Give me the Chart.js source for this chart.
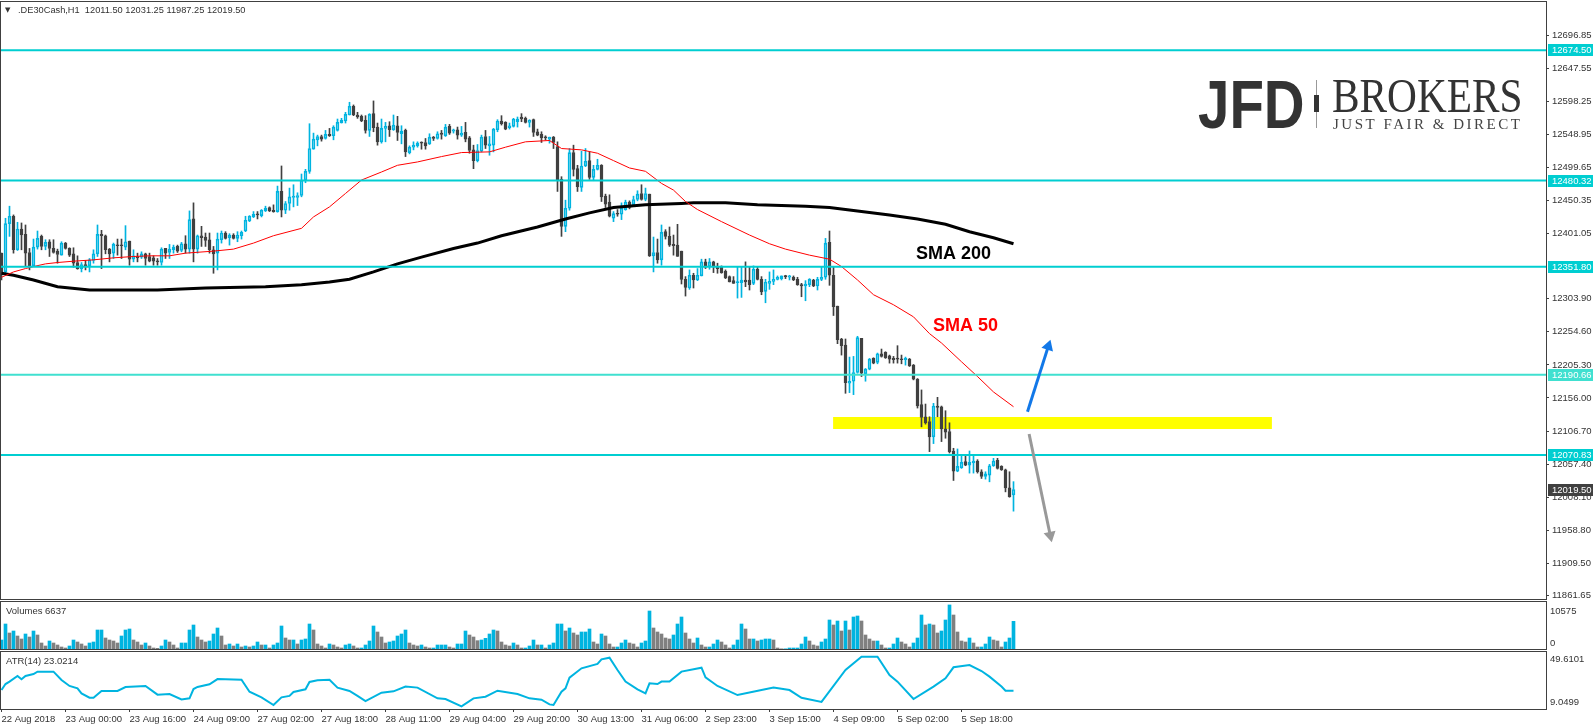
<!DOCTYPE html>
<html lang="en">
<head>
  <meta charset="UTF-8">
  <title>.DE30Cash,H1</title>
  <style>
    html, body { margin: 0; padding: 0; background: #fff; overflow: hidden; }
    canvas { position: absolute; left: 0; display: block; }
  </style>
</head>
<body>
  <canvas id="mainChart" width="1593" height="600" style="top:0"></canvas>
  <canvas id="volChart" width="1593" height="50" style="top:601px"></canvas>
  <canvas id="atrChart" width="1593" height="76" style="top:651px"></canvas>

  <script src="https://cdn.jsdelivr.net/npm/chart.js@4/dist/chart.umd.min.js"></script>
  <script>
    // H1 candles
    const opens = [
      12372,12344,12416,12427,12377,12408,12400,12373,12353,12381,
      12397,12382,12389,12379,12375,12369,12387,12379,12371,12358,
      12349,12355,12353,12361,12371,12400,12398,12378,12372,12384,
      12384,12381,12390,12363,12367,12366,12371,12367,12365,12360,
      12358,12379,12373,12377,12382,12376,12386,12378,12423,12378,
      12398,12396,12392,12377,12372,12392,12402,12395,12399,12394,
      12398,12405,12420,12426,12430,12428,12435,12440,12436,12434,
      12464,12436,12446,12455,12455,12458,12481,12494,12527,12541,
      12546,12543,12549,12547,12555,12566,12569,12578,12591,12578,
      12576,12570,12555,12580,12560,12538,12558,12562,12556,12562,
      12550,12555,12522,12530,12532,12537,12537,12535,12545,12543,
      12551,12547,12561,12554,12556,12548,12552,12544,12526,12510,
      12524,12546,12532,12533,12556,12569,12567,12559,12561,12568,
      12575,12573,12567,12571,12553,12549,12545,12542,12545,12531,
      12482,12412,12439,12522,12498,12470,12502,12510,12485,12497,
      12503,12457,12448,12424,12431,12430,12437,12448,12444,12452,
      12461,12452,12460,12368,12373,12362,12404,12397,12385,12384,
      12375,12333,12320,12339,12332,12338,12359,12352,12359,12352,
      12352,12345,12337,12331,12328,12328,12332,12332,12327,12348,
      12333,12315,12327,12330,12333,12334,12338,12336,12336,12333,
      12325,12323,12325,12332,12323,12333,12336,12388,12339,12293,
      12244,12235,12178,12181,12194,12245,12192,12199,12215,12209,
      12222,12224,12219,12215,12215,12214,12213,12214,12205,12184,
      12146,12128,12121,12098,12144,12143,12110,12106,12077,12047,
      12052,12061,12056,12059,12062,12046,12039,12041,12055,12063,
      12054,12049,12022,12011.5
    ];
    const highs = [
      12372,12424,12442,12429,12418,12417,12414,12379,12393,12405,
      12399,12392,12392,12392,12378,12389,12388,12380,12380,12368,
      12358,12361,12364,12377,12414,12406,12399,12379,12387,12393,
      12393,12413,12390,12377,12372,12374,12372,12372,12368,12364,
      12380,12379,12385,12384,12384,12388,12398,12435,12447,12399,
      12412,12402,12402,12382,12402,12405,12404,12401,12401,12404,
      12405,12427,12428,12434,12434,12437,12442,12441,12444,12472,
      12502,12449,12469,12474,12462,12490,12497,12565,12551,12548,
      12548,12555,12558,12562,12572,12573,12582,12597,12593,12582,
      12578,12577,12580,12599,12566,12572,12567,12568,12578,12576,
      12562,12557,12532,12538,12538,12538,12543,12550,12546,12553,
      12555,12564,12564,12557,12560,12561,12567,12546,12533,12534,
      12548,12555,12546,12558,12571,12577,12568,12566,12573,12575,
      12580,12575,12571,12572,12557,12553,12547,12545,12546,12538,
      12486,12451,12528,12533,12503,12524,12528,12523,12503,12512,
      12504,12460,12459,12434,12437,12447,12451,12450,12457,12465,
      12474,12469,12460,12396,12393,12414,12407,12411,12399,12415,
      12375,12337,12347,12342,12349,12363,12363,12364,12360,12357,
      12353,12347,12338,12337,12352,12352,12359,12351,12353,12352,
      12337,12333,12344,12347,12338,12338,12339,12339,12338,12336,
      12327,12331,12334,12333,12336,12352,12394,12405,12352,12293,
      12245,12244,12217,12218,12248,12245,12200,12215,12216,12223,
      12229,12225,12220,12218,12234,12220,12217,12215,12206,12185,
      12168,12147,12128,12148,12157,12144,12137,12119,12081,12080,
      12070,12069,12077,12069,12064,12049,12046,12057,12066,12066,
      12055,12050,12046,12031.25
    ];
    const lows = [
      12332,12342,12397,12372,12376,12377,12352,12347,12352,12378,
      12377,12377,12367,12372,12357,12369,12378,12367,12351,12348,
      12344,12347,12344,12357,12367,12349,12371,12359,12364,12369,
      12364,12377,12354,12359,12359,12364,12354,12359,12354,12354,
      12354,12364,12364,12372,12373,12374,12372,12372,12359,12372,
      12382,12382,12372,12342,12347,12387,12393,12384,12393,12389,
      12393,12404,12419,12425,12423,12426,12434,12434,12433,12433,
      12426,12431,12436,12441,12443,12456,12477,12491,12527,12532,
      12539,12542,12546,12541,12554,12566,12566,12578,12577,12573,
      12568,12551,12546,12553,12533,12536,12538,12546,12555,12540,
      12535,12516,12520,12526,12530,12527,12527,12534,12540,12542,
      12542,12546,12549,12551,12542,12546,12538,12521,12498,12508,
      12523,12528,12518,12523,12553,12563,12556,12557,12560,12560,
      12568,12566,12560,12546,12547,12537,12541,12536,12528,12464,
      12397,12404,12436,12487,12464,12464,12501,12482,12480,12496,
      12449,12440,12426,12419,12427,12422,12436,12438,12443,12450,
      12451,12450,12367,12344,12357,12354,12393,12382,12369,12367,
      12326,12308,12318,12320,12331,12338,12349,12348,12343,12342,
      12342,12334,12329,12327,12305,12306,12322,12317,12325,12332,
      12310,12298,12318,12325,12332,12332,12334,12332,12331,12324,
      12307,12301,12322,12322,12317,12331,12333,12324,12279,12237,
      12220,12163,12164,12161,12193,12188,12181,12198,12207,12207,
      12217,12215,12208,12208,12208,12207,12205,12203,12183,12141,
      12113,12117,12076,12088,12128,12091,12096,12074,12033,12046,
      12051,12055,12044,12044,12044,12036,12035,12031,12054,12050,
      12048,12016,12008,11987.25
    ];
    const closes = [
      12342,12416,12427,12377,12408,12399,12372,12352,12381,12394,
      12382,12388,12379,12373,12370,12387,12379,12369,12357,12349,
      12355,12353,12362,12371,12400,12398,12377,12371,12385,12383,
      12383,12389,12363,12368,12365,12371,12364,12360,12360,12359,
      12378,12372,12378,12381,12375,12386,12378,12422,12378,12398,
      12395,12391,12377,12371,12393,12402,12394,12399,12394,12399,
      12403,12421,12427,12430,12429,12436,12439,12435,12434,12464,
      12436,12446,12456,12457,12458,12481,12494,12528,12542,12546,
      12542,12549,12547,12560,12567,12570,12579,12591,12578,12575,
      12569,12555,12579,12559,12538,12558,12561,12556,12563,12552,
      12554,12523,12530,12533,12536,12536,12532,12545,12543,12550,
      12549,12560,12551,12556,12548,12551,12542,12525,12510,12525,
      12545,12533,12535,12557,12569,12565,12557,12562,12572,12572,
      12572,12567,12570,12552,12548,12544,12544,12545,12537,12481,
      12412,12439,12522,12497,12471,12502,12509,12485,12497,12503,
      12456,12445,12427,12431,12430,12439,12448,12440,12452,12460,
      12452,12461,12368,12373,12362,12403,12397,12384,12383,12367,
      12333,12321,12339,12332,12339,12359,12351,12359,12352,12349,
      12343,12335,12329,12327,12328,12332,12329,12325,12348,12333,
      12314,12329,12330,12333,12336,12338,12337,12338,12332,12325,
      12323,12326,12333,12323,12333,12336,12387,12339,12292,12243,
      12234,12179,12181,12194,12246,12193,12199,12214,12208,12222,
      12218,12216,12214,12213,12214,12213,12215,12204,12184,12144,
      12127,12119,12098,12144,12142,12110,12105,12076,12047,12054,
      12060,12056,12060,12062,12046,12039,12043,12055,12062,12051,
      12049,12022,12009,12019.5
    ];

    const volumes = [
      2160,6000,3840,4320,3120,2400,3600,2880,4320,3360,
      1440,720,1920,1440,960,480,240,720,2160,1680,
      1200,720,1440,1680,4560,4560,2640,2160,1920,1440,
      3120,4560,4800,2160,1680,960,1440,720,240,160,
      720,2160,1680,960,240,1440,1440,4560,5760,2880,
      2160,1680,1920,3600,5040,3120,960,1200,720,1200,
      480,720,480,720,1680,960,960,240,960,1440,
      5520,2640,2160,2160,1200,2160,2400,6000,4560,1200,
      720,240,1200,960,480,240,960,1200,720,240,
      240,960,1920,5520,4080,2880,1440,1680,1920,3120,
      3600,4560,1440,960,720,960,480,240,240,960,
      960,960,480,240,1200,1200,4320,3360,2880,2000,
      2160,2560,3600,4560,4320,1680,960,720,1440,960,
      240,240,720,2160,960,960,240,960,1440,6000,
      6000,4320,5040,3840,3360,4080,4080,4800,1680,1200,
      3600,3120,1200,480,480,1440,2160,1440,1200,480,
      1440,1920,9120,5040,4080,3600,2640,2400,3360,6000,
      7680,3840,2400,1440,2640,960,480,480,1200,2160,
      1680,960,240,960,2160,6000,4800,2400,2400,1920,
      2160,2400,2400,2160,240,40,40,240,240,240,
      1200,2880,1920,960,720,1680,2400,6960,5760,6720,
      4320,6720,4560,7680,7920,6720,3360,2400,1920,1920,
      960,240,240,1200,2640,1680,1200,480,1440,2640,
      8160,5760,6000,5760,3840,4320,6960,10575,8160,4080,
      1920,1680,2640,1440,480,480,1200,2880,2160,1920,
      480,1680,2640,6637
    ];

    // moving averages and ATR, sampled where the curve changes
    const sma50Bars = [0,3,6,8,11,14,18,23,28,33,37,42,46,53,58,63,68,75,78,82,86,90,95,99,104,110,115,122,126,131,137,140,145,149,153,157,161,165,168,171,174,180,187,192,196,202,207,210,214,218,223,228,232,235,240,244,248,253];
    const sma50Values = [12336,12344,12349,12352,12356,12358,12360,12362,12365,12367,12368,12368,12372,12375,12378,12387,12398,12409,12426,12441,12461,12481,12493,12503,12508,12516,12522,12523,12530,12538,12540,12528,12526,12521,12510,12499,12494,12476,12466,12449,12437,12419,12399,12386,12378,12369,12363,12352,12332,12310,12295,12277,12252,12238,12210,12188,12165,12143];
    const sma200Bars = [0,3,8,14,22,39,51,66,75,82,87,93,99,105,113,119,125,134,141,147,153,161,170,173,181,189,201,207,214,222,229,236,242,248,253];
    const sma200Values = [12342,12339,12332,12322,12317,12317,12320,12322,12325,12329,12333,12344,12356,12366,12379,12387,12398,12411,12423,12432,12440,12444,12446,12447,12447,12444,12442,12440,12435,12429,12423,12415,12404,12395,12386];
    const atrBars = [0,1,2,4,5,6,8,9,13,15,17,19,20,22,23,25,29,31,36,39,42,45,47,48,49,52,54,60,62,65,68,70,72,73,76,77,79,82,84,87,89,91,95,98,101,104,109,111,115,118,121,124,129,132,135,137,138,140,141,142,145,149,150,152,154,156,159,161,162,164,165,167,170,175,176,179,184,190,193,197,200,205,211,215,219,222,224,228,233,236,238,242,245,247,250,251,253];
    const atrValues = [23.5,28.2,30.1,34.5,31.9,34.5,36.0,37.9,37.9,31.4,26.7,24.8,20.9,17.5,17.5,22.8,22.8,25.9,26.7,19.9,20.4,16.2,17.0,24.3,25.9,28.0,32.1,31.6,22.2,17.8,11.8,17.8,18.9,22.0,24.1,29.8,31.1,31.6,25.4,22.8,18.9,14.9,21.4,22.5,26.2,25.4,17.0,16.5,10.8,17.0,18.3,23.0,20.4,17.0,16.0,12.3,11.8,22.2,24.8,33.2,40.5,43.9,47.5,48.8,39.2,30.1,24.1,20.9,28.8,28.2,30.1,30.1,37.9,41.0,33.4,26.7,19.6,23.5,25.4,23.5,17.5,14.2,39.2,49.6,49.6,35.3,30.1,16.5,26.2,32.7,41.3,43.1,38.4,34.0,26.2,23.0,23.0];

    // horizontal levels and drawn objects
    const levels = [12674.50, 12480.32, 12351.80, 12190.66, 12070.83];
    const zoneBars = [207.9, 317.6];
    const zonePrice = 12118.7;
    const upArrowBars = [256.5, 261.7];
    const upArrowPrices = [12135.6, 12233];
    const downArrowBars = [256.9, 262.2];
    const downArrowPrices = [12102.3, 11951];
    const lastPrice = 12019.50;

    // axis labels
    const priceTicks = [12696.85,12647.55,12598.25,12548.95,12499.65,12450.35,12401.05,12303.90,12254.60,12205.30,12156.00,12106.70,12057.40,12008.10,11958.80,11909.50,11861.65];
    const volumeTicks = ["10575", "0"];
    const atrTicks = ["49.6101", "9.0499"];
    const timeTicks = ["22 Aug 2018","23 Aug 00:00","23 Aug 16:00","24 Aug 09:00","27 Aug 02:00","27 Aug 18:00","28 Aug 11:00","29 Aug 04:00","29 Aug 20:00","30 Aug 13:00","31 Aug 06:00","2 Sep 23:00","3 Sep 15:00","4 Sep 09:00","5 Sep 02:00","5 Sep 18:00"];
    const timeTickStep = 16;

    const BLUE = "#00b4e0", DARK = "#404040", TEXT = "#333333", GREY = "#808080", CYAN = "#00ced1", AXIS = "#404040";
    const levelColors = [CYAN, CYAN, CYAN, "#40e0d0", CYAN];
    const FONT = "'Liberation Sans', Arial, sans-serif";
    const tickFont = { family: FONT, size: 9.5 };

    const points = (xs, ys) => xs.map((x, i) => ({ x, y: ys[i] }));
    const isUp = i => closes[i] >= opens[i];

    // same bar slots on all three panels: 4px per bar, free space on the right
    const xRange = { min: -0.125, max: 386.125 };
    const yAxisWidth = 47;

    // chart.js reserves room for half a label at the axis ends, the panels must fill exactly
    const dropAxisPadding = s => { s.paddingTop = s.paddingBottom = s.paddingLeft = s.paddingRight = 0; };

    function xScale(show) {
      return {
        type: "linear", offset: false, ...xRange, display: show,
        grid: { offset: false, drawOnChartArea: false, color: AXIS, tickLength: 3 },
        border: { display: false },
        afterFit: s => { s.height = show ? 18 : 0; dropAxisPadding(s); },
        afterBuildTicks: s => { s.ticks = timeTicks.map((_, k) => ({ value: k * timeTickStep })); },
        ticks: { color: TEXT, font: tickFont, align: "start", autoSkip: false, maxRotation: 0, padding: 2, callback: (v, i) => timeTicks[i] }
      };
    }

    // sub panel labels sit inside the panel rather than on the exact value, so nudge them (px)
    function panelYScale(min, max, panelHeight, labels, values, nudges) {
      const perPx = (max - min) / panelHeight;
      return {
        position: "right", min, max,
        grid: { drawOnChartArea: false, drawTicks: false },
        border: { display: false },
        afterFit: s => { s.width = yAxisWidth; dropAxisPadding(s); },
        afterBuildTicks: s => { s.ticks = values.map((v, k) => ({ value: v - nudges[k] * perPx })); },
        ticks: { color: TEXT, font: tickFont, padding: 4, autoSkip: false, callback: (v, i) => labels[i] }
      };
    }

    const panelBorder = {
      id: "panelBorder",
      afterDraw(chart) {
        const { ctx, chartArea: a } = chart;
        ctx.save();
        ctx.strokeStyle = AXIS;
        ctx.lineWidth = 1;
        ctx.strokeRect(a.left - 0.5, a.top - 0.5, a.right - a.left + 1, a.bottom - a.top + 1);
        ctx.restore();
      }
    };

    function panelTitle(text) {
      return {
        id: "panelTitle",
        afterDraw(chart) {
          const { ctx, chartArea: a } = chart;
          ctx.save();
          ctx.fillStyle = TEXT;
          ctx.font = `9.5px ${FONT}`;
          ctx.textBaseline = "middle";
          ctx.fillText(text, 6, a.top + 9);
          ctx.restore();
        }
      };
    }

    // price tags, header, annotations and logo on the main panel
    const mainOverlay = {
      id: "mainOverlay",
      afterDraw(chart) {
        const { ctx, scales } = chart;
        const tag = (price, color) => {
          const y = Math.round(scales.y.getPixelForValue(price));
          ctx.fillStyle = color;
          ctx.fillRect(1548, y - 6, 45, 12);
          ctx.fillStyle = "#fff";
          ctx.font = `9.5px ${FONT}`;
          ctx.textBaseline = "middle";
          ctx.fillText(price.toFixed(2), 1552, y + 0.5);
        };
        ctx.save();
        levels.forEach((p, i) => tag(p, levelColors[i]));
        tag(lastPrice, DARK);

        ctx.fillStyle = TEXT;
        ctx.font = `9.25px ${FONT}`;
        ctx.textBaseline = "middle";
        ctx.fillText(".DE30Cash,H1  12011.50 12031.25 11987.25 12019.50", 18, 10.5);
        ctx.font = "7px 'DejaVu Sans'";
        ctx.fillText("▼", 5, 10.5);

        ctx.font = `bold 18px ${FONT}`;
        ctx.fillStyle = "#000";
        ctx.fillText("SMA 200", 916, 254);
        ctx.fillStyle = "#ff0000";
        ctx.fillText("SMA 50", 933, 326);

        // logo
        ctx.fillStyle = "#333";
        ctx.textBaseline = "alphabetic";
        ctx.save();
        ctx.translate(1198, 128);
        ctx.scale(0.83, 1);
        ctx.font = `bold 68px ${FONT}`;
        ctx.fillText("JFD", 0, 0);
        ctx.restore();
        ctx.fillStyle = "#999";
        ctx.fillRect(1316, 80, 1, 48);
        ctx.fillStyle = "#333";
        ctx.fillRect(1314, 95, 5, 17);
        ctx.save();
        ctx.translate(1332, 112);
        ctx.scale(0.86, 1);
        ctx.font = "48px 'Liberation Serif', serif";
        ctx.fillText("BROKERS", 0, 0);
        ctx.restore();
        ctx.fillStyle = "#444";
        ctx.font = "15px 'Liberation Serif', serif";
        ctx.letterSpacing = "2.5px";
        ctx.fillText("JUST FAIR & DIRECT", 1333, 129);
        ctx.restore();
      }
    };

    Chart.defaults.animation = false;
    Chart.defaults.events = [];
    Chart.defaults.plugins.legend.display = false;
    Chart.defaults.plugins.tooltip.enabled = false;

    const bars = opens.map((_, i) => i);
    const candleColors = bars.map(i => (isUp(i) ? BLUE : DARK));
    const wickStyle = { type: "bar", barThickness: 1, grouped: false, backgroundColor: candleColors, order: 9 };
    const lineStyle = { type: "line", pointRadius: 0, tension: 0, fill: false };

    const levelDatasets = levels.map((p, i) => ({
      ...lineStyle,
      data: points([xRange.min, xRange.max], [p, p]),
      borderColor: levelColors[i], borderWidth: 2, order: 4
    }));

    new Chart(document.getElementById("mainChart"), {
      type: "bar",
      data: {
        datasets: [
          { ...lineStyle, data: points(zoneBars, [zonePrice, zonePrice]), borderColor: "#ffff00", borderWidth: 12, order: 10 },
          { ...wickStyle, data: bars.map(i => ({ x: i, y: [Math.max(opens[i], closes[i]), highs[i]] })) },
          { ...wickStyle, data: bars.map(i => ({ x: i, y: [lows[i], Math.min(opens[i], closes[i])] })) },
          {
            type: "bar", barThickness: 3, grouped: false, minBarLength: 1,
            data: bars.map(i => ({ x: i, y: [opens[i], closes[i]] })),
            backgroundColor: bars.map(i => (isUp(i) ? "transparent" : DARK)),
            borderColor: candleColors, borderWidth: 1, borderSkipped: false, order: 8
          },
          { ...lineStyle, data: points(sma200Bars, sma200Values), borderColor: "#000", borderWidth: 3, order: 6 },
          { ...lineStyle, data: points(sma50Bars, sma50Values), borderColor: "#ff0000", borderWidth: 1, order: 5 },
          ...levelDatasets,
          {
            ...lineStyle, data: points(upArrowBars, upArrowPrices), borderColor: "#1278e8", borderWidth: 3, order: 3,
            pointStyle: "triangle", pointRadius: [0, 7], pointRotation: [0, 18], pointBackgroundColor: "#1278e8", pointBorderWidth: 0
          },
          {
            ...lineStyle, data: points(downArrowBars, downArrowPrices), borderColor: "#999999", borderWidth: 3, order: 3,
            pointStyle: "triangle", pointRadius: [0, 7], pointRotation: [0, 168], pointBackgroundColor: "#999999", pointBorderWidth: 0
          }
        ]
      },
      options: {
        responsive: false,
        layout: { autoPadding: false, padding: { left: 1, top: 2, bottom: 1, right: 0 } },
        scales: {
          x: xScale(false),
          y: {
            position: "right", min: 11856.26, max: 12746.5,
            grid: { drawOnChartArea: false, color: AXIS, tickLength: 3 },
            border: { display: false },
            afterFit: s => { s.width = yAxisWidth; dropAxisPadding(s); },
            afterBuildTicks: s => { s.ticks = priceTicks.map(value => ({ value })); },
            ticks: { color: TEXT, font: tickFont, padding: 3, autoSkip: false, callback: v => v.toFixed(2) }
          }
        }
      },
      plugins: [panelBorder, mainOverlay]
    });

    new Chart(document.getElementById("volChart"), {
      type: "bar",
      data: {
        datasets: [{
          data: points(bars, volumes),
          barThickness: 3,
          backgroundColor: volumes.map((v, i) => (i === 0 || v >= volumes[i - 1] ? BLUE : GREY))
        }]
      },
      options: {
        responsive: false,
        layout: { autoPadding: false, padding: { left: 1, top: 1, bottom: 2, right: 0 } },
        scales: {
          x: xScale(false),
          y: panelYScale(0, 11280, 47, volumeTicks, [10575, 0], [6, -6])
        }
      },
      plugins: [panelBorder, panelTitle("Volumes 6637")]
    });

    new Chart(document.getElementById("atrChart"), {
      type: "line",
      data: {
        datasets: [{ ...lineStyle, data: points(atrBars, atrValues), borderColor: BLUE, borderWidth: 2 }]
      },
      options: {
        responsive: false,
        layout: { autoPadding: false, padding: { left: 1, top: 1, bottom: 0, right: 0 } },
        scales: {
          x: xScale(true),
          y: panelYScale(8.68, 53.26, 57, atrTicks, [49.6101, 9.0499], [2.4, -6.5])
        }
      },
      plugins: [panelBorder, panelTitle("ATR(14) 23.0214")]
    });
  </script>
</body>
</html>
